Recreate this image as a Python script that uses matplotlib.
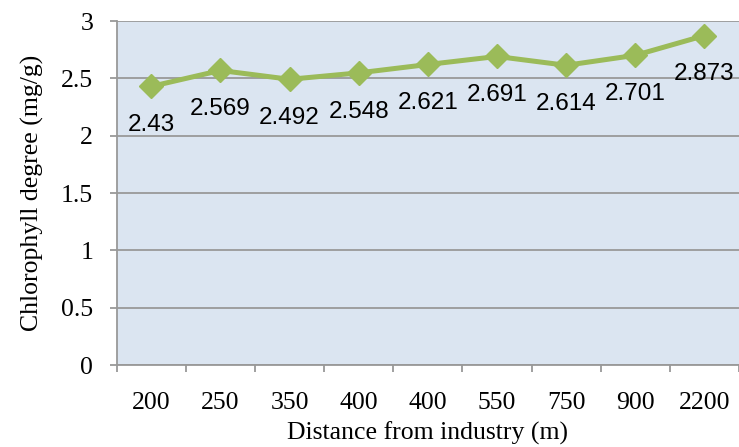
import matplotlib
matplotlib.use("Agg")
import matplotlib.pyplot as plt
import numpy as np

# data
distances = ['200', '250', '350', '400', '400', '550', '750', '900', '2200']
chlorophyll = [2.43, 2.569, 2.492, 2.548, 2.621, 2.691, 2.614, 2.701, 2.873]
point_labels = ['2.43', '2.569', '2.492', '2.548', '2.621', '2.691', '2.614', '2.701', '2.873']
y_ticks = [0, 0.5, 1, 1.5, 2, 2.5, 3]
y_tick_labels = ['0', '0.5', '1', '1.5', '2', '2.5', '3']

fig = plt.figure(figsize=(7.39, 4.47), dpi=100)
ax = fig.add_axes([0.158, 0.183, 0.842, 0.770])
ax.set_facecolor('#dbe5f1')

x = np.arange(len(distances))
ax.plot(x, chlorophyll, color='#9bbb59', lw=3.6, marker='D', ms=12,
        markerfacecolor='#9bbb59', markeredgecolor='#9bbb59', zorder=3)

for xi, yi, lab in zip(x, chlorophyll, point_labels):
    ax.annotate(lab, (xi, yi), xytext=(0, -28), textcoords='offset points',
                ha='center', va='center', fontsize=17.5,
                family='Liberation Sans', color='black', zorder=4)

ax.set_xlim(-0.5, len(distances) - 0.5)
ax.set_ylim(0, 3)

ax.set_yticks(y_ticks)
ax.set_yticklabels(y_tick_labels, family='Liberation Serif', fontsize=18.5)
ax.yaxis.grid(True, color='#999999', lw=1.3)
ax.set_axisbelow(True)

ax.set_xticks(x)
ax.set_xticklabels(distances, family='Liberation Serif', fontsize=18.5)
ax.set_xticks(np.arange(len(distances) + 1) - 0.5, minor=True)
ax.tick_params(axis='x', which='major', length=0, pad=19)
ax.tick_params(axis='x', which='minor', length=5, width=1.3, color='#999999')
ax.tick_params(axis='y', length=5, width=1.3, color='#999999', pad=12)

for s in ['top', 'right']:
    ax.spines[s].set_visible(False)
for s in ['left', 'bottom']:
    ax.spines[s].set_color('#999999')
    ax.spines[s].set_linewidth(1.3)

ax.set_xlabel('Distance from industry (m)', family='Liberation Serif', fontsize=18.5, labelpad=6)
ax.set_ylabel('Chlorophyll degree (mg/g)', family='Liberation Serif', fontsize=18.5, labelpad=12)

fig.savefig('out.png', dpi=100)
